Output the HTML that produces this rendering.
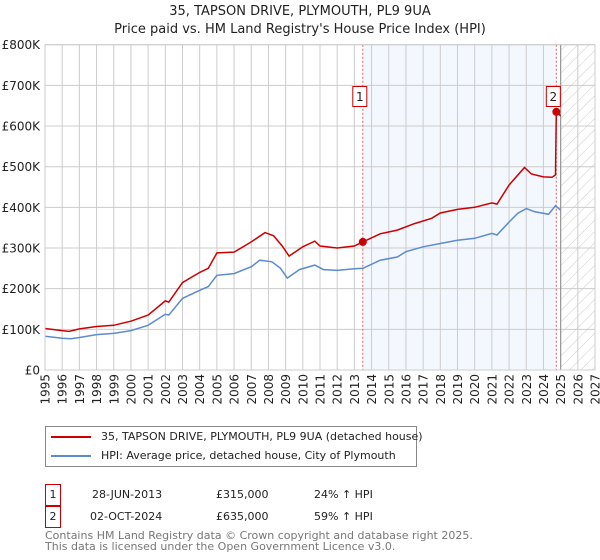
<!DOCTYPE html>
<html><head><meta charset="utf-8"><style>
body{margin:0;background:#fff;font-family:"Liberation Sans","DejaVu Sans",sans-serif}
#wrap{position:relative;width:600px;height:560px;overflow:hidden}
svg text{font-family:"DejaVu Sans","Liberation Sans",sans-serif}
</style></head><body>
<div id="wrap">
<svg id="chart" width="600" height="560"></svg>
</div>
<script>
const hpiYears=[1995,1996,1996.5,1997,1998,1999,2000,2001,2002,2002.2,2003,2004,2004.5,2005,2006,2007,2007.5,2008.2,2008.7,2009.1,2009.8,2010.7,2011.2,2012,2013,2013.5,2014.5,2015.5,2016,2017,2018,2019,2020,2021,2021.3,2022,2022.5,2023,2023.5,2024.3,2024.7,2025];
const hpiValues=[83000,78000,77000,80000,87000,90000,97000,110000,137000,135000,176000,196000,205000,233000,237000,254000,270000,266000,250000,226000,247000,258000,247000,245000,249000,250000,270000,278000,291000,303000,311000,319000,324000,336000,332000,364000,385000,397000,389000,383000,404000,393000];
const redYears=[1995,1996,1996.4,1997,1998,1999,2000,2001,2002,2002.2,2003,2004,2004.5,2005,2006,2007,2007.8,2008.3,2008.8,2009.2,2010,2010.7,2011,2012,2013,2013.49,2014.5,2015.5,2016.5,2017.5,2018,2019,2020,2021,2021.3,2022,2022.9,2023.3,2024,2024.5,2024.7,2024.75,2025];
const redValues=[102000,97000,95000,101000,107000,110000,120000,135000,170000,167000,215000,240000,250000,288000,290000,315000,338000,330000,305000,280000,303000,317000,305000,300000,305000,315000,335000,344000,360000,373000,386000,395000,400000,411000,408000,455000,498000,482000,475000,474000,480000,635000,625000];
const saleYears=[2013.49,2024.75];
const saleValues=[315000,635000];
const saleLabels=["1","2"];
const yTicks=[0,100000,200000,300000,400000,500000,600000,700000,800000];
const yTickLabels=["£0","£100K","£200K","£300K","£400K","£500K","£600K","£700K","£800K"];
const xTicks=[1995,1996,1997,1998,1999,2000,2001,2002,2003,2004,2005,2006,2007,2008,2009,2010,2011,2012,2013,2014,2015,2016,2017,2018,2019,2020,2021,2022,2023,2024,2025,2026,2027];

const L=45,R=595,T=44.7,B=370;
const X=y=>L+(y-1995)*(R-L)/32;
const Y=v=>B-v*(B-T)/800000;
const NS="http://www.w3.org/2000/svg";
const svg=document.getElementById('chart');
function mk(tag,attrs,parent){const e=document.createElementNS(NS,tag);for(const k in attrs)e.setAttribute(k,attrs[k]);(parent||svg).appendChild(e);return e;}

const defs=mk('defs',{});
const pat=mk('pattern',{id:'hatch',width:8,height:8,patternUnits:'userSpaceOnUse',patternTransform:'rotate(45)'},defs);
mk('line',{x1:0,y1:0,x2:0,y2:8,stroke:'#ccc','stroke-width':1},pat);

const shade=mk('rect',{x:X(saleYears[0]),y:T,width:X(saleYears[1])-X(saleYears[0]),height:B-T,fill:'#eef3fd',opacity:0.7});


const hatch=mk('rect',{x:X(2025),y:T,width:R-X(2025),height:B-T,fill:'url(#hatch)'});



yTicks.forEach((v,i)=>{
  const g=mk('line',{x1:L,x2:R,y1:Y(v),y2:Y(v),stroke:'#ccc','stroke-width':1});
  
  
  const t=mk('text',{x:40,y:Y(v)+4.5,'text-anchor':'end','font-size':12,fill:'#222'});
  t.textContent=yTickLabels[i];
  
  
});
xTicks.forEach(yr=>{
  const g=mk('line',{x1:X(yr),x2:X(yr),y1:T,y2:B,stroke:'#ccc','stroke-width':1});
  
  
  const t=mk('text',{x:0,y:0,'text-anchor':'end','font-size':12,fill:'#222',transform:`translate(${X(yr)+4.5},${B+4}) rotate(-90)`});
  t.textContent=yr;
  
  
});
const v25=mk('line',{x1:X(2025),x2:X(2025),y1:T,y2:B,stroke:'#999','stroke-width':1.2});



saleYears.forEach(yr=>{
  const l=mk('line',{x1:X(yr),x2:X(yr),y1:T,y2:B,stroke:'#e06060','stroke-width':1,'stroke-dasharray':'2,2'});
  
  
});

function path(xs,vs){return xs.map((x,i)=>(i?'L':'M')+X(x).toFixed(1)+','+Y(vs[i]).toFixed(1)).join(' ');}
const hp=mk('path',{d:path(hpiYears,hpiValues),fill:'none',stroke:'#5b8bd0','stroke-width':1.5});


const rp=mk('path',{d:path(redYears,redValues),fill:'none',stroke:'#cc0000','stroke-width':1.5});



saleYears.forEach((yr,i)=>{
  const c=mk('circle',{cx:X(yr),cy:Y(saleValues[i]),r:4,fill:'#cc0000'});
  
  
  const bx=X(yr)-10;
  const r=mk('rect',{x:bx,y:86.5,width:14,height:20,fill:'#fff',stroke:'#cc0000','stroke-width':1});
  
  
  const t=mk('text',{x:bx+7,y:101,'text-anchor':'middle','font-size':12,fill:'#222'});
  t.textContent=saleLabels[i];
  
  
});

const fr=mk('rect',{x:L,y:T,width:R-L,height:B-T,fill:'none',stroke:'#ccc','stroke-width':1});


</script>
<div style="position:absolute;left:0;top:3px;width:600px;text-align:center;font-size:13px;line-height:18px;color:#222;font-family:'DejaVu Sans','Liberation Sans',sans-serif">35, TAPSON DRIVE, PLYMOUTH, PL9 9UA<br>Price paid vs. HM Land Registry's House Price Index (HPI)</div>

<div style="position:absolute;left:45px;top:426px;width:372px;height:41px;border:1px solid #888;box-sizing:border-box;font-size:11px;font-family:'DejaVu Sans','Liberation Sans',sans-serif;color:#222">
 <div style="position:absolute;left:5px;top:3px;white-space:nowrap"><span style="display:inline-block;width:40px;height:2px;background:#cc0000;vertical-align:middle;margin-right:10px"></span>35, TAPSON DRIVE, PLYMOUTH, PL9 9UA (detached house)</div>
 <div style="position:absolute;left:5px;top:22px;white-space:nowrap"><span style="display:inline-block;width:40px;height:2px;background:#5b8bd0;vertical-align:middle;margin-right:10px"></span>HPI: Average price, detached house, City of Plymouth</div>
</div>

<div style="font-family:'DejaVu Sans','Liberation Sans',sans-serif;font-size:11px;color:#222">
 <div>
  <div style="position:absolute;left:45px;top:484px;width:14px;height:20px;border:1px solid #cc0000;text-align:center;line-height:20px">1</div>
  <div style="position:absolute;left:92px;top:488px">28-JUN-2013</div>
  <div style="position:absolute;left:216px;top:488px">£315,000</div>
  <div style="position:absolute;left:314px;top:488px">24% ↑ HPI</div>
 </div>
 <div>
  <div style="position:absolute;left:45px;top:506px;width:14px;height:20px;border:1px solid #cc0000;text-align:center;line-height:20px">2</div>
  <div style="position:absolute;left:90px;top:510px">02-OCT-2024</div>
  <div style="position:absolute;left:216px;top:510px">£635,000</div>
  <div style="position:absolute;left:314px;top:510px">59% ↑ HPI</div>
 </div>
</div>
<div style="position:absolute;left:45px;top:530px;font-size:11px;line-height:11px;color:#777;font-family:'DejaVu Sans','Liberation Sans',sans-serif">Contains HM Land Registry data © Crown copyright and database right 2025.<br>This data is licensed under the Open Government Licence v3.0.</div>
</body></html>
